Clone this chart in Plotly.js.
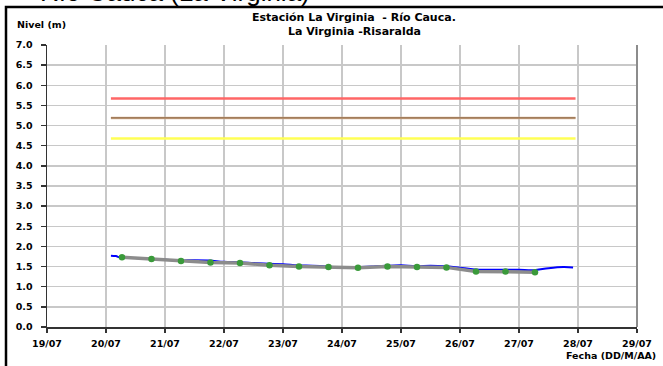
<!DOCTYPE html>
<html>
<head>
<meta charset="utf-8">
<script src="https://cdn.plot.ly/plotly-3.0.1.min.js"></script>
<style>html,body{margin:0;padding:0;background:#fff;}#chart{width:663px;height:366px;}</style>
</head>
<body>
<div id="chart"></div>
<script>
// Hourly-ish river level (blue line)
var blueTimes = [
  "2011-07-20 02:00","2011-07-20 04:00","2011-07-20 06:00","2011-07-20 12:00","2011-07-20 18:00",
  "2011-07-21 00:00","2011-07-21 06:00","2011-07-21 12:00","2011-07-21 18:00",
  "2011-07-22 00:00","2011-07-22 06:00","2011-07-22 12:00","2011-07-22 18:00",
  "2011-07-23 00:00","2011-07-23 06:00","2011-07-23 12:00","2011-07-23 18:00",
  "2011-07-24 00:00","2011-07-24 06:00","2011-07-24 12:00","2011-07-24 18:00",
  "2011-07-25 00:00","2011-07-25 06:00","2011-07-25 12:00","2011-07-25 18:00",
  "2011-07-26 00:00","2011-07-26 06:00","2011-07-26 12:00","2011-07-26 18:00",
  "2011-07-27 00:00","2011-07-27 06:00","2011-07-27 12:00","2011-07-27 18:00","2011-07-27 22:00"
];
var blueLevels = [
  1.77,1.76,1.72,1.71,1.69,
  1.67,1.65,1.66,1.65,
  1.62,1.61,1.59,1.57,
  1.56,1.53,1.52,1.50,
  1.47,1.48,1.50,1.52,
  1.53,1.51,1.52,1.51,
  1.47,1.43,1.42,1.42,
  1.42,1.41,1.46,1.49,1.48
];
// Manual readings (grey line with green markers)
var readTimes = [
  "2011-07-20 06:30","2011-07-20 18:30","2011-07-21 06:30","2011-07-21 18:30",
  "2011-07-22 06:30","2011-07-22 18:30","2011-07-23 06:30","2011-07-23 18:30",
  "2011-07-24 06:30","2011-07-24 18:30","2011-07-25 06:30","2011-07-25 18:30",
  "2011-07-26 06:30","2011-07-26 18:30","2011-07-27 06:30"
];
var readLevels = [1.73,1.69,1.64,1.60,1.59,1.53,1.50,1.49,1.47,1.50,1.49,1.48,1.38,1.38,1.36];
// Alert thresholds
var thresholdStart = "2011-07-20 02:00";
var thresholdEnd = "2011-07-27 23:00";
var redLevel = 5.67;
var brownLevel = 5.19;
var yellowLevel = 4.68;
var xTickRange = ["2011-07-19","2011-07-29"];

var L = 47, R = 26, T = 45, B = 39, W = 663, H = 366;
var pw = W - L - R, ph = H - T - B;
function px(x){ return (x - L) / pw; }
function py(y){ return (H - B - y) / ph; }

var traces = [
  {x:[thresholdStart,thresholdEnd], y:[redLevel,redLevel], mode:'lines', line:{color:'#ff6666', width:2.5}, hoverinfo:'skip'},
  {x:[thresholdStart,thresholdEnd], y:[brownLevel,brownLevel], mode:'lines', line:{color:'#dcb896', width:2.5}, hoverinfo:'skip'},
  {x:[thresholdStart,thresholdEnd], y:[brownLevel,brownLevel], mode:'lines', line:{color:'#7a5535', width:1}, hoverinfo:'skip'},
  {x:[thresholdStart,thresholdEnd], y:[yellowLevel,yellowLevel], mode:'lines', line:{color:'#ffff55', width:2.5}, hoverinfo:'skip'},
  {x:blueTimes, y:blueLevels, mode:'lines', line:{color:'#0000ff', width:2, shape:'spline'}},
  {x:readTimes, y:readLevels, mode:'lines', line:{color:'#8c8c8c', width:3.5}},
  {x:readTimes, y:readLevels, mode:'markers', marker:{color:'#3a9a3a', size:6.5}}
];

var tickFont = {family:'DejaVu Sans', size:9.5, color:'#000', weight:'bold'};

var layout = {
  width:W, height:H,
  margin:{l:L, r:R, t:T, b:B, pad:0},
  paper_bgcolor:'#fff', plot_bgcolor:'#fff',
  showlegend:false,
  xaxis:{
    type:'date', range:xTickRange, dtick:86400000, tick0:'2011-07-19',
    tickformat:'%d/%m', tickfont:tickFont,
    showgrid:true, gridcolor:'#c8c8c8', gridwidth:1.5,
    showline:true, linecolor:'#333', linewidth:1.5,
    ticks:'outside', ticklen:4, tickcolor:'#333', tickwidth:1.5,
    ticklabelstandoff:3, zeroline:false, fixedrange:true
  },
  yaxis:{
    range:[0,7], dtick:0.5, tick0:0, tickformat:'.1f', tickfont:tickFont,
    showgrid:true, gridcolor:'#c8c8c8', gridwidth:1.5,
    showline:true, linecolor:'#333', linewidth:1.5,
    ticks:'outside', ticklen:5, tickcolor:'#333', tickwidth:1.5,
    ticklabelstandoff:6, zeroline:false, fixedrange:true
  },
  shapes:[
    {type:'line', xref:'paper', yref:'paper', x0:1, x1:1, y0:0, y1:1, line:{color:'#8c8c8c', width:2}},
    {type:'rect', xref:'paper', yref:'paper', x0:px(6), x1:px(690), y0:py(390), y1:py(7), line:{color:'#000', width:2.5}, fillcolor:'rgba(0,0,0,0)'}
  ],
  annotations:[
    {xref:'paper', yref:'paper', x:px(312), y:py(8.7), xanchor:'right', yanchor:'bottom', showarrow:false,
     text:'Río Cauca (La Virginia)', font:{family:'Liberation Sans', size:26, color:'#000'}},
    {xref:'paper', yref:'paper', x:px(354), y:py(17), xanchor:'center', yanchor:'middle', showarrow:false,
     text:'Estación La Virginia  - Río Cauca.', font:{family:'DejaVu Sans', size:11, color:'#000', weight:'bold'}},
    {xref:'paper', yref:'paper', x:px(354), y:py(32), xanchor:'center', yanchor:'middle', showarrow:false,
     text:'La Virginia -Risaralda', font:{family:'DejaVu Sans', size:11, color:'#000', weight:'bold'}},
    {xref:'paper', yref:'paper', x:px(15), y:py(25), xanchor:'left', yanchor:'middle', showarrow:false,
     text:'Nivel (m)', font:{family:'DejaVu Sans', size:9.5, color:'#000', weight:'bold'}},
    {xref:'paper', yref:'paper', x:px(658), y:py(355), xanchor:'right', yanchor:'middle', showarrow:false,
     text:'Fecha (DD/M/AA)', font:{family:'DejaVu Sans', size:9.5, color:'#000', weight:'bold'}}
  ]
};

Plotly.newPlot('chart', traces, layout, {staticPlot:true, displayModeBar:false});
</script>
</body>
</html>
